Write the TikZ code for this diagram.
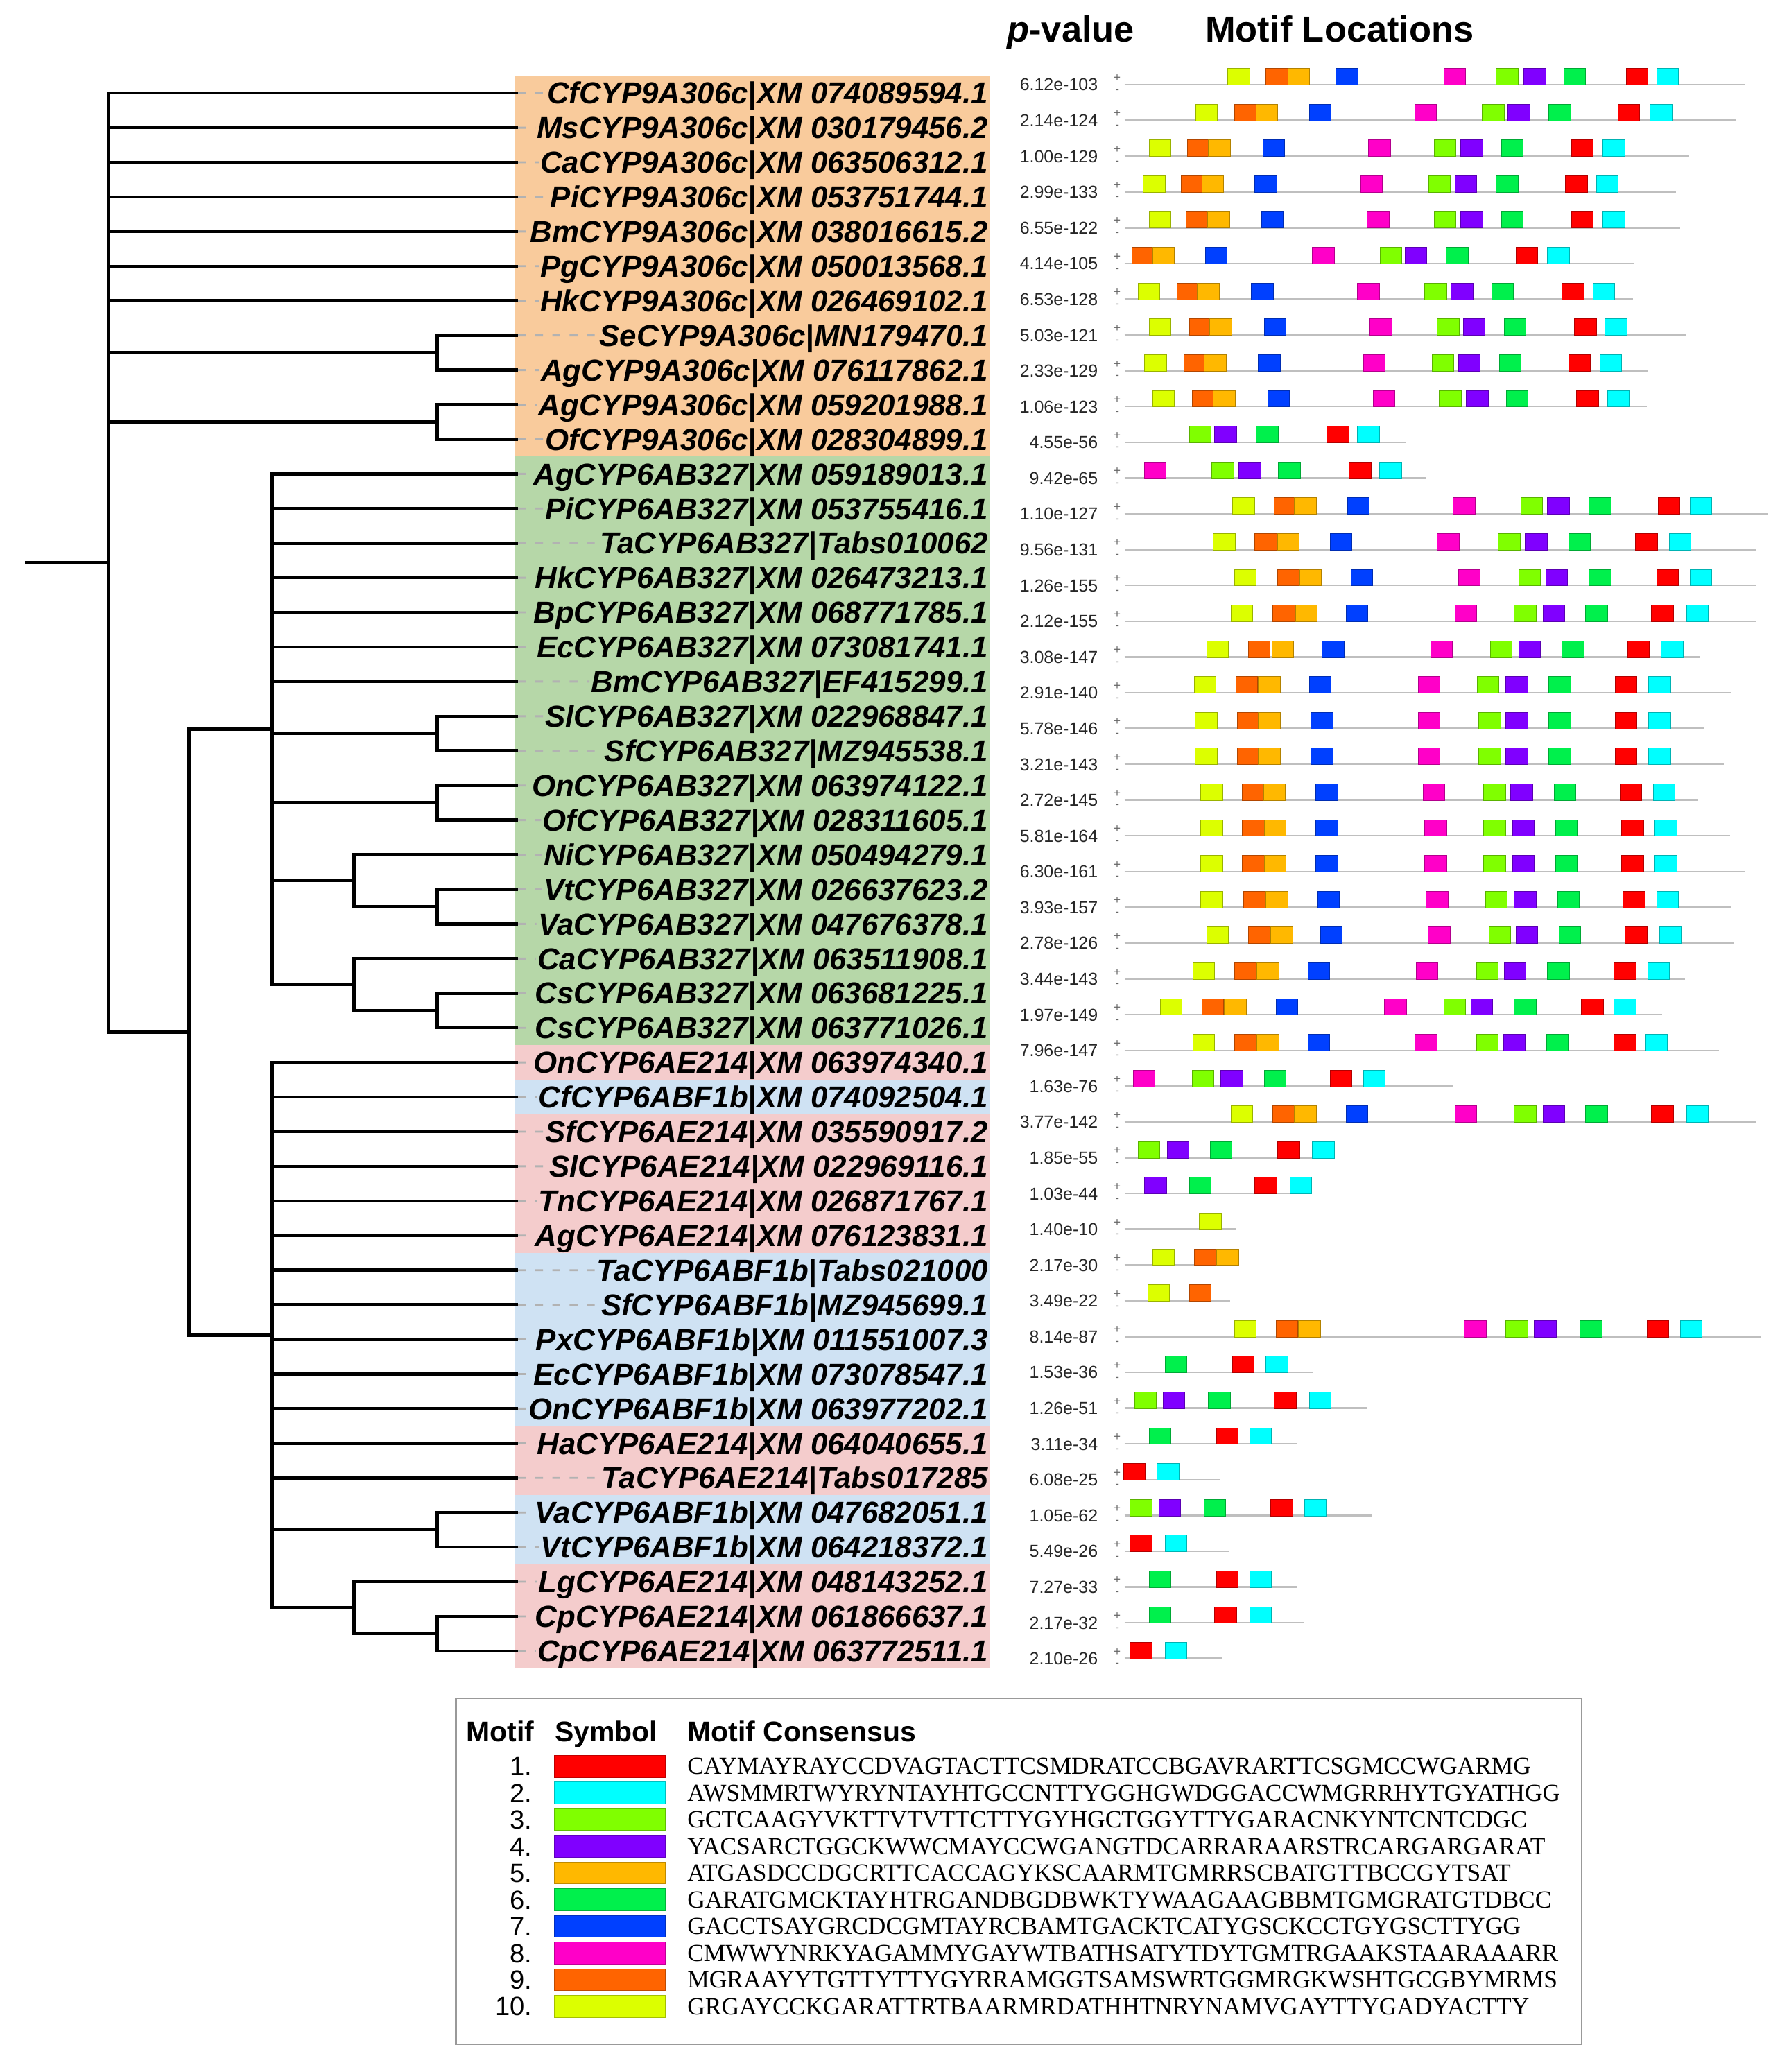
\documentclass[tikz,border=0pt]{standalone}
\usepackage{fontspec}
\setmainfont{Liberation Sans}
\newfontfamily\seqfont{Liberation Serif}

\definecolor{bgorange}{HTML}{F9CB9C}
\definecolor{bggreen}{HTML}{B6D7A8}
\definecolor{bgpink}{HTML}{F4CCCC}
\definecolor{bgblue}{HTML}{CFE2F3}
\definecolor{motif1}{HTML}{FF0000}
\definecolor{motif2}{HTML}{00FFFF}
\definecolor{motif3}{HTML}{80FF00}
\definecolor{motif4}{HTML}{8000FF}
\definecolor{motif5}{HTML}{FFB800}
\definecolor{motif6}{HTML}{00F04C}
\definecolor{motif7}{HTML}{0040FF}
\definecolor{motif8}{HTML}{FF00C8}
\definecolor{motif9}{HTML}{FF6400}
\definecolor{motif10}{HTML}{DCFF00}

\tikzset{
  branch/.style={line width=2.4pt},
  leader/.style={draw=black!30, line width=1.5pt, dash pattern=on 6pt off 7pt, shorten >=1pt},
  taxon/.style={anchor=east, inner sep=0pt, text height=16.5pt, text depth=0pt, font=\fontsize{23}{23}\selectfont\bfseries\itshape},
  head/.style={anchor=base west, inner sep=0pt, font=\fontsize{27.5}{27.5}\selectfont\bfseries},
  pval/.style={anchor=east, inner sep=0pt, text height=9.4pt, text depth=0pt, text=black!85, font=\fontsize{13.1}{13.1}\selectfont},
  strand/.style={inner sep=0pt, font=\fontsize{9}{9}\selectfont, text=black!60},
  seqline/.style={draw=black!25, line width=1.3pt},
  motif/.style={draw=#1!70!black, fill=#1, line width=0.4pt, minimum width=16.5pt, minimum height=12.5pt, inner sep=0pt, anchor=south west},
  lhead/.style={anchor=base west, inner sep=0pt, font=\fontsize{21.5}{21.5}\selectfont\bfseries},
  lnum/.style={anchor=east, inner sep=0pt, text height=14.3pt, text depth=0pt, font=\fontsize{20}{20}\selectfont},
  lsym/.style={minimum width=83.8pt, minimum height=16.6pt, inner sep=0pt, line width=0.6pt},
  lseq/.style={anchor=west, inner sep=0pt, text height=12.3pt, text depth=0pt, font=\seqfont\fontsize{18.6}{18.6}\selectfont}
}

\newcommand\motifrow[4]{%
  \pgfmathsetmacro\ry{36.93+27.07*#1}%
  \pgfmathsetmacro\re{755.7+0.3791*#3}%
  \node[pval] (p#1) at (831,\ry) {#2};
  \node[strand] (plus#1) at (845.5,\ry-5) {+};
  \node[strand] (minus#1) at (845.5,\ry+5) {-};
  \coordinate (s#1) at (851,\ry);
  \coordinate (e#1) at (\re,\ry);
  \draw[seqline] (s#1) -- (e#1);
  \foreach \m/\v in {#4} {
    \pgfmathsetmacro\bx{755.7+0.3791*\v}
    \node[motif=motif\m] (m#1-\m) at (\bx,\ry+0.5) {};
  }%
}

\begin{document}
\begin{tikzpicture}[x=1pt,y=-1pt]
\useasboundingbox (0,0) rectangle (1347,1568);

\fill[bgorange] (390,57.3) rectangle (749,345.5);
\fill[bggreen] (390,345.5) rectangle (749,790.9);
\fill[bgpink] (390,790.9) rectangle (749,817.1);
\fill[bgblue] (390,817.1) rectangle (749,843.3);
\fill[bgpink] (390,843.3) rectangle (749,948.1);
\fill[bgblue] (390,948.1) rectangle (749,1079.1);
\fill[bgpink] (390,1079.1) rectangle (749,1131.5);
\fill[bgblue] (390,1131.5) rectangle (749,1183.9);
\fill[bgpink] (390,1183.9) rectangle (749,1262.5);

\node[taxon] (l1) at (748,70.4) {CfCYP9A306c|XM 074089594.1};
\node[taxon] (l2) at (748,96.6) {MsCYP9A306c|XM 030179456.2};
\node[taxon] (l3) at (748,122.8) {CaCYP9A306c|XM 063506312.1};
\node[taxon] (l4) at (748,149.0) {PiCYP9A306c|XM 053751744.1};
\node[taxon] (l5) at (748,175.2) {BmCYP9A306c|XM 038016615.2};
\node[taxon] (l6) at (748,201.4) {PgCYP9A306c|XM 050013568.1};
\node[taxon] (l7) at (748,227.6) {HkCYP9A306c|XM 026469102.1};
\node[taxon] (l8) at (748,253.8) {SeCYP9A306c|MN179470.1};
\node[taxon] (l9) at (748,280.0) {AgCYP9A306c|XM 076117862.1};
\node[taxon] (l10) at (748,306.2) {AgCYP9A306c|XM 059201988.1};
\node[taxon] (l11) at (748,332.4) {OfCYP9A306c|XM 028304899.1};
\node[taxon] (l12) at (748,358.6) {AgCYP6AB327|XM 059189013.1};
\node[taxon] (l13) at (748,384.8) {PiCYP6AB327|XM 053755416.1};
\node[taxon] (l14) at (748,411.0) {TaCYP6AB327|Tabs010062};
\node[taxon] (l15) at (748,437.2) {HkCYP6AB327|XM 026473213.1};
\node[taxon] (l16) at (748,463.4) {BpCYP6AB327|XM 068771785.1};
\node[taxon] (l17) at (748,489.6) {EcCYP6AB327|XM 073081741.1};
\node[taxon] (l18) at (748,515.8) {BmCYP6AB327|EF415299.1};
\node[taxon] (l19) at (748,542.0) {SlCYP6AB327|XM 022968847.1};
\node[taxon] (l20) at (748,568.2) {SfCYP6AB327|MZ945538.1};
\node[taxon] (l21) at (748,594.4) {OnCYP6AB327|XM 063974122.1};
\node[taxon] (l22) at (748,620.6) {OfCYP6AB327|XM 028311605.1};
\node[taxon] (l23) at (748,646.8) {NiCYP6AB327|XM 050494279.1};
\node[taxon] (l24) at (748,673.0) {VtCYP6AB327|XM 026637623.2};
\node[taxon] (l25) at (748,699.2) {VaCYP6AB327|XM 047676378.1};
\node[taxon] (l26) at (748,725.4) {CaCYP6AB327|XM 063511908.1};
\node[taxon] (l27) at (748,751.6) {CsCYP6AB327|XM 063681225.1};
\node[taxon] (l28) at (748,777.8) {CsCYP6AB327|XM 063771026.1};
\node[taxon] (l29) at (748,804.0) {OnCYP6AE214|XM 063974340.1};
\node[taxon] (l30) at (748,830.2) {CfCYP6ABF1b|XM 074092504.1};
\node[taxon] (l31) at (748,856.4) {SfCYP6AE214|XM 035590917.2};
\node[taxon] (l32) at (748,882.6) {SlCYP6AE214|XM 022969116.1};
\node[taxon] (l33) at (748,908.8) {TnCYP6AE214|XM 026871767.1};
\node[taxon] (l34) at (748,935.0) {AgCYP6AE214|XM 076123831.1};
\node[taxon] (l35) at (748,961.2) {TaCYP6ABF1b|Tabs021000};
\node[taxon] (l36) at (748,987.4) {SfCYP6ABF1b|MZ945699.1};
\node[taxon] (l37) at (748,1013.6) {PxCYP6ABF1b|XM 011551007.3};
\node[taxon] (l38) at (748,1039.8) {EcCYP6ABF1b|XM 073078547.1};
\node[taxon] (l39) at (748,1066.0) {OnCYP6ABF1b|XM 063977202.1};
\node[taxon] (l40) at (748,1092.2) {HaCYP6AE214|XM 064040655.1};
\node[taxon] (l41) at (748,1118.4) {TaCYP6AE214|Tabs017285};
\node[taxon] (l42) at (748,1144.6) {VaCYP6ABF1b|XM 047682051.1};
\node[taxon] (l43) at (748,1170.8) {VtCYP6ABF1b|XM 064218372.1};
\node[taxon] (l44) at (748,1197.0) {LgCYP6AE214|XM 048143252.1};
\node[taxon] (l45) at (748,1223.2) {CpCYP6AE214|XM 061866637.1};
\node[taxon] (l46) at (748,1249.4) {CpCYP6AE214|XM 063772511.1};

\foreach \i in {1,...,46} {
  \coordinate (t\i) at (392,{44.2+26.2*\i});
  \draw[leader] (t\i) -- (l\i.west);
}

\coordinate (base) at (19,425.7);
\coordinate (root) at (82,425.7);
\coordinate (se) at (331,266.9);
\coordinate (ao) at (331,319.3);
\coordinate (deep) at (143,781.05);
\coordinate (ab) at (206,551.8);
\coordinate (slsf) at (331,555.1);
\coordinate (onof) at (331,607.5);
\coordinate (nivv) at (268,666.45);
\coordinate (vtva) at (331,686.1);
\coordinate (cacs) at (268,745.05);
\coordinate (cscs) at (331,764.7);
\coordinate (ae) at (206,1010.3);
\coordinate (vavt) at (331,1157.7);
\coordinate (lgcp) at (268,1216.65);
\coordinate (cpcp) at (331,1236.3);

\draw[branch] (base) -- (root);
\foreach \c in {t1,t2,t3,t4,t5,t6,t7,se,ao,deep} \draw[branch] (root) |- (\c);
\foreach \c in {t8,t9} \draw[branch] (se) |- (\c);
\foreach \c in {t10,t11} \draw[branch] (ao) |- (\c);
\foreach \c in {ab,ae} \draw[branch] (deep) |- (\c);
\foreach \c in {t12,t13,t14,t15,t16,t17,t18,slsf,onof,nivv,cacs} \draw[branch] (ab) |- (\c);
\foreach \c in {t19,t20} \draw[branch] (slsf) |- (\c);
\foreach \c in {t21,t22} \draw[branch] (onof) |- (\c);
\foreach \c in {t23,vtva} \draw[branch] (nivv) |- (\c);
\foreach \c in {t24,t25} \draw[branch] (vtva) |- (\c);
\foreach \c in {t26,cscs} \draw[branch] (cacs) |- (\c);
\foreach \c in {t27,t28} \draw[branch] (cscs) |- (\c);
\foreach \c in {t29,t30,t31,t32,t33,t34,t35,t36,t37,t38,t39,t40,t41,vavt,lgcp} \draw[branch] (ae) |- (\c);
\foreach \c in {t42,t43} \draw[branch] (vavt) |- (\c);
\foreach \c in {t44,cpcp} \draw[branch] (lgcp) |- (\c);
\foreach \c in {t45,t46} \draw[branch] (cpcp) |- (\c);

\node[head] (hp) at (762,31.6) {\textit{p}-value};
\node[head] (hm) at (912,31.6) {Motif Locations};

\motifrow{1}{6.12e-103}{1490}{10/457,9/533,5/577,7/673,8/888,3/993,4/1048,6/1128,1/1252,2/1313}
\motifrow{2}{2.14e-124}{1473}{10/393,9/470,5/513,7/620,8/830,3/965,4/1016,6/1098,1/1236,2/1300}
\motifrow{3}{1.00e-129}{1378}{10/300,9/377,5/418,7/527,8/738,3/869,4/922,6/1003,1/1143,2/1206}
\motifrow{4}{2.99e-133}{1352}{10/288,9/364,5/405,7/511,8/722,3/858,4/910,6/993,1/1131,2/1193}
\motifrow{5}{6.55e-122}{1360}{10/300,9/374,5/417,7/524,8/735,3/869,4/922,6/1003,1/1143,2/1206}
\motifrow{6}{4.14e-105}{1268}{9/266,5/307,7/412,8/626,3/761,4/811,6/893,1/1032,2/1095}
\motifrow{7}{6.53e-128}{1267}{10/278,9/355,5/396,7/504,8/716,3/850,4/903,6/984,1/1124,2/1186}
\motifrow{8}{5.03e-121}{1372}{10/300,9/381,5/421,7/530,8/741,3/875,4/927,6/1009,1/1149,2/1210}
\motifrow{9}{2.33e-129}{1296}{10/291,9/370,5/410,7/518,8/728,3/865,4/917,6/999,1/1137,2/1200}
\motifrow{10}{1.06e-123}{1294}{10/307,9/386,5/428,7/537,8/747,3/879,4/933,6/1013,1/1153,2/1215}
\motifrow{11}{4.55e-56}{812}{3/380,4/431,6/514,1/655,2/716}
\motifrow{12}{9.42e-65}{852}{8/290,3/425,4/479,6/558,1/699,2/760}
\motifrow{13}{1.10e-127}{1535}{10/467,9/549,5/590,7/696,8/907,3/1042,4/1095,6/1178,1/1316,2/1380}
\motifrow{14}{9.56e-131}{1512}{10/428,9/511,5/556,7/661,8/875,3/997,4/1051,6/1137,1/1271,2/1338}
\motifrow{15}{1.26e-155}{1512}{10/470,9/556,5/600,7/703,8/917,3/1038,4/1092,6/1178,1/1313,2/1380}
\motifrow{16}{2.12e-155}{1512}{10/463,9/547,5/592,7/693,8/910,3/1029,4/1086,6/1171,1/1303,2/1373}
\motifrow{17}{3.08e-147}{1400}{10/415,9/498,5/545,7/645,8/862,3/981,4/1038,6/1124,1/1255,2/1322}
\motifrow{18}{2.91e-140}{1462}{10/390,9/473,5/518,7/620,8/837,3/955,4/1012,6/1098,1/1230,2/1297}
\motifrow{19}{5.78e-146}{1408}{10/392,9/476,5/518,7/623,8/837,3/958,4/1012,6/1098,1/1230,2/1297}
\motifrow{20}{3.21e-143}{1448}{10/392,9/476,5/518,7/623,8/837,3/958,4/1012,6/1098,1/1230,2/1297}
\motifrow{21}{2.72e-145}{1396}{10/403,9/486,5/528,7/633,8/847,3/968,4/1022,6/1108,1/1240,2/1306}
\motifrow{22}{5.81e-164}{1460}{10/403,9/486,5/530,7/633,8/850,3/968,4/1025,6/1111,1/1243,2/1310}
\motifrow{23}{6.30e-161}{1490}{10/403,9/486,5/530,7/633,8/850,3/968,4/1025,6/1111,1/1243,2/1310}
\motifrow{24}{3.93e-157}{1462}{10/403,9/489,5/533,7/636,8/853,3/971,4/1029,6/1115,1/1246,2/1313}
\motifrow{25}{2.78e-126}{1468}{10/415,9/498,5/543,7/642,8/857,3/978,4/1032,6/1118,1/1250,2/1319}
\motifrow{26}{3.44e-143}{1370}{10/387,9/470,5/515,7/617,8/833,3/953,4/1009,6/1095,1/1228,2/1295}
\motifrow{27}{1.97e-149}{1325}{10/322,9/405,5/450,7/553,8/770,3/888,4/942,6/1029,1/1163,2/1228}
\motifrow{28}{7.96e-147}{1438}{10/387,9/470,5/515,7/617,8/831,3/953,4/1007,6/1093,1/1228,2/1291}
\motifrow{29}{1.63e-76}{907}{8/268,3/386,4/443,6/530,1/661,2/728}
\motifrow{30}{3.77e-142}{1512}{10/463,9/547,5/590,7/693,8/910,3/1029,4/1086,6/1171,1/1303,2/1373}
\motifrow{31}{1.85e-55}{670}{3/278,4/336,6/422,1/557,2/626}
\motifrow{32}{1.03e-44}{625}{4/291,6/380,1/511,2/581}
\motifrow{33}{1.40e-10}{475}{10/400}
\motifrow{34}{2.17e-30}{478}{10/307,9/390,5/435}
\motifrow{35}{3.49e-22}{462}{10/297,9/380}
\motifrow{36}{8.14e-87}{1522}{10/470,9/553,5/598,8/929,3/1012,4/1069,6/1160,1/1294,2/1360}
\motifrow{37}{1.53e-36}{628}{6/332,1/466,2/533}
\motifrow{38}{1.26e-51}{735}{3/271,4/328,6/418,1/550,2/620}
\motifrow{39}{3.11e-34}{597}{6/300,1/434,2/501}
\motifrow{40}{6.08e-25}{443}{1/249,2/316}
\motifrow{41}{1.05e-62}{746}{3/262,4/319,6/409,1/543,2/610}
\motifrow{42}{5.49e-26}{459}{1/262,2/332}
\motifrow{43}{7.27e-33}{597}{6/300,1/434,2/501}
\motifrow{44}{2.17e-32}{609}{6/300,1/431,2/501}
\motifrow{45}{2.10e-26}{447}{1/262,2/332}

\draw[draw=black!40, line width=1.2pt] (345,1285) rectangle (1197,1547);
\node[lhead] (lm) at (352.6,1317.8) {Motif};
\node[lhead] (ls) at (419.7,1317.8) {Symbol};
\node[lhead] (lc) at (520,1317.8) {Motif Consensus};
\foreach \k/\s in {1/CAYMAYRAYCCDVAGTACTTCSMDRATCCBGAVRARTTCSGMCCWGARMG,
                   2/AWSMMRTWYRYNTAYHTGCCNTTYGGHGWDGGACCWMGRRHYTGYATHGG,
                   3/GCTCAAGYVKTTVTVTTCTTYGYHGCTGGYTTYGARACNKYNTCNTCDGC,
                   4/YACSARCTGGCKWWCMAYCCWGANGTDCARRARAARSTRCARGARGARAT,
                   5/ATGASDCCDGCRTTCACCAGYKSCAARMTGMRRSCBATGTTBCCGYTSAT,
                   6/GARATGMCKTAYHTRGANDBGDBWKTYWAAGAAGBBMTGMGRATGTDBCC,
                   7/GACCTSAYGRCDCGMTAYRCBAMTGACKTCATYGSCKCCTGYGSCTTYGG,
                   8/CMWWYNRKYAGAMMYGAYWTBATHSATYTDYTGMTRGAAKSTAARAAARR,
                   9/MGRAAYYTGTTYTTYGYRRAMGGTSAMSWRTGGMRGKWSHTGCGBYMRMS,
                   10/GRGAYCCKGARATTRTBAARMRDATHHTNRYNAMVGAYTTYGADYACTTY} {
  \pgfmathsetmacro\ly{1336.7+20.18*(\k-1)}
  \node[lnum] (n\k) at (403,\ly) {\k.};
  \node[lsym, fill=motif\k, draw=motif\k!75!black] (r\k) at (461.5,\ly) {};
  \node[lseq] (c\k) at (520,\ly) {\s};
}
\end{tikzpicture}
\end{document}
